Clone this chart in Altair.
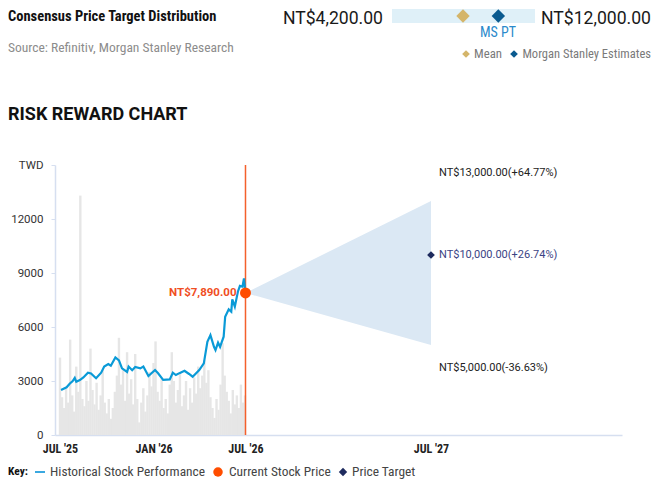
import altair as alt
import pandas as pd

# ---------------- data ----------------
price_dates = [
    "2025-07-03", "2025-07-14", "2025-07-20", "2025-07-26", "2025-07-30", "2025-08-02",
    "2025-08-09", "2025-08-16", "2025-08-25", "2025-08-31", "2025-09-10", "2025-09-20",
    "2025-09-26", "2025-10-04", "2025-10-09", "2025-10-18", "2025-10-25", "2025-10-31",
    "2025-11-10", "2025-11-13", "2025-11-20", "2025-11-26", "2025-12-06", "2025-12-12",
    "2025-12-22", "2026-01-04", "2026-01-10", "2026-01-20", "2026-02-02", "2026-02-08",
    "2026-02-14", "2026-02-22", "2026-03-03", "2026-03-12", "2026-03-19", "2026-04-01",
    "2026-04-10", "2026-04-17", "2026-04-23", "2026-04-30", "2026-05-03", "2026-05-08",
    "2026-05-12", "2026-05-19", "2026-05-22", "2026-05-29", "2026-06-03", "2026-06-05",
    "2026-06-10", "2026-06-16", "2026-06-20", "2026-06-25", "2026-06-28", "2026-07-01",
]
price_values = [
    2500, 2650, 2850, 3000, 3170, 2960,
    3050, 3200, 3460, 3420, 3150, 3460,
    3800, 3940, 3850, 4310, 4150, 3700,
    3500, 3800, 3600, 3780, 3700, 3800,
    3280, 3610, 3430, 3060, 3090, 3460,
    3330, 3450, 3570, 3390, 3240, 3610,
    3980, 5180, 5550, 4900, 4720, 5130,
    4900, 5460, 6570, 6980, 6850, 7540,
    7130, 7960, 8280, 8240, 8700, 7890,
]

vol_start = "2025-07-01"
vol_values = [
    4300, 2100, 1500, 2600, 1800, 5300, 2200, 1300, 3800, 2400,
    13300, 2000, 1600, 3000, 1900, 4800, 2500, 1700, 2900, 1400,
    2200, 3600, 1800, 1200, 2000, 900, 1500, 2400, 3300, 5400,
    2800, 3600, 1900, 4600, 2300, 3100, 1700, 4500, 2000, 700,
    1800, 2600, 1300, 2200, 3500, 2700, 4000, 5200, 2400, 1900,
    3100, 1500, 2000, 1200, 2800, 4600, 3000, 1800, 2500, 3400,
    1600, 2200, 3000, 1400, 2600, 1800, 3200, 2300, 3800, 2600,
    3300, 4150, 2900, 3600, 2100, 1500, 950, 2000, 1400, 2800,
    5100, 3300, 2400, 1900, 1200, 2500, 1700, 2200, 1500, 2800,
    1800, 2200,
]

current_date = "2026-07-01"
current_price = 7890
target_date = "2027-07-01"
bull_price = 13000
base_price = 10000
bear_price = 5000

consensus_low = 4200
consensus_high = 12000
consensus_mean = 8073
ms_pt = 10000

y_ticks = [0, 3000, 6000, 9000, 12000, 15000]

# ---------------- tables ----------------
price_df = pd.DataFrame({"date": price_dates, "price": price_values})
vol_df = pd.DataFrame({
    "date": pd.date_range(vol_start, periods=len(vol_values), freq="4D").strftime("%Y-%m-%d"),
    "price": vol_values,
})
cone_df = pd.DataFrame({
    "date": [current_date, target_date],
    "price": [current_price, bull_price],
    "lo": [current_price, bear_price],
})
cur_df = pd.DataFrame({"date": [current_date], "price": [current_price],
                       "label": [f"NT${current_price:,.2f}"]})


def lab(v):
    return f"NT${v:,.2f}({(v / current_price - 1) * 100:+.2f}%)"


tgt_df = pd.DataFrame({"date": [target_date], "price": [base_price], "label": [lab(base_price)]})
bull_df = pd.DataFrame({"date": [target_date], "price": [bull_price], "label": [lab(bull_price)]})
bear_df = pd.DataFrame({"date": [target_date], "price": [bear_price], "label": [lab(bear_price)]})

hdr_df = pd.DataFrame({"lo": [consensus_low], "hi": [consensus_high]})
hdr_pts = pd.DataFrame({"v": [consensus_mean, ms_pt], "kind": ["Mean", "MS"]})

NARROW = "Roboto Condensed, Roboto, sans-serif"
ROBOTO = "Roboto, sans-serif"

xs = alt.Scale(type="utc", domain=[alt.DateTime(year=2025, month=7, date=1, utc=True),
                                   alt.DateTime(year=2028, month=7, date=1, utc=True)])
ys = alt.Scale(domain=[0, 15000])

x_axis = alt.Axis(
    values=[alt.DateTime(year=2025, month=7, date=1, utc=True),
            alt.DateTime(year=2026, month=1, date=1, utc=True),
            alt.DateTime(year=2026, month=7, date=1, utc=True),
            alt.DateTime(year=2027, month=7, date=1, utc=True)],
    labelExpr="upper(utcFormat(datum.value, '%b')) + \" '\" + utcFormat(datum.value, '%y')",
    title=None, grid=False, ticks=False, domainColor="#d6dff0", domainWidth=1.5,
    labelFont=NARROW, labelFontSize=12, labelFontWeight="bold", labelColor="#222222",
    labelPadding=8, labelFlush=False,
)
y_axis = alt.Axis(
    values=y_ticks, format="d",
    labelExpr="datum.value == 15000 ? 'TWD' : datum.label",
    title=None, grid=False, tickSize=4, tickColor="#d6dff0", domainColor="#d6dff0",
    domainWidth=1.5, labelFont=ROBOTO, labelFontSize=11.5, labelColor="#333333",
    labelPadding=8,
)


def X():
    return alt.X("date:T", scale=xs, axis=x_axis)


def Y():
    return alt.Y("price:Q", scale=ys, axis=y_axis)


vol = alt.Chart(vol_df).mark_bar(color="#e6e6e6", width=2.4).encode(x=X(), y=Y())
cone = alt.Chart(cone_df).mark_area(color="#dbe8f4", opacity=1).encode(x=X(), y=Y(), y2="lo")
rule = alt.Chart(cur_df).mark_rule(color="#f4602c", strokeWidth=1.5).encode(x=X())
line = alt.Chart(price_df).mark_line(color="#0a9ad7", strokeWidth=2.2).encode(x=X(), y=Y())
cur_pt = alt.Chart(cur_df).mark_circle(color="#ff4d00", size=120, opacity=1).encode(x=X(), y=Y())
cur_lab = alt.Chart(cur_df).mark_text(align="right", baseline="middle", dx=-9, font=ROBOTO,
                                      fontSize=11.5, fontWeight="bold", color="#f04e23").encode(
    x=X(), y=Y(), text="label")
tgt_pt = alt.Chart(tgt_df).mark_point(shape="diamond", filled=True, size=60, color="#1e2b5e",
                                      opacity=1).encode(x=X(), y=Y())
tgt_lab = alt.Chart(tgt_df).mark_text(align="left", baseline="middle", dx=8, font=ROBOTO,
                                      fontSize=11, color="#3b4384").encode(x=X(), y=Y(), text="label")
bull_lab = alt.Chart(bull_df).mark_text(align="left", baseline="middle", dx=8, dy=-28, font=ROBOTO,
                                        fontSize=11, color="#222222").encode(x=X(), y=Y(), text="label")
bear_lab = alt.Chart(bear_df).mark_text(align="left", baseline="middle", dx=8, dy=23, font=ROBOTO,
                                        fontSize=11, color="#222222").encode(x=X(), y=Y(), text="label")

main = alt.layer(vol, cone, rule, line, cur_pt, cur_lab, tgt_pt, tgt_lab, bull_lab, bear_lab)

# header consensus strip (own scale)
hs = alt.Scale(domain=[consensus_low, consensus_high], range=[337, 480])
hbar = alt.Chart(hdr_df).mark_rect(color="#dff0f8").encode(
    x=alt.X("lo:Q", scale=hs, axis=None), x2="hi",
    y=alt.value(-156), y2=alt.value(-142),
)
hpts = alt.Chart(hdr_pts).mark_point(shape="diamond", filled=True, size=180, opacity=1).encode(
    x=alt.X("v:Q", scale=hs, axis=None), y=alt.value(-149),
    color=alt.Color("kind:N", scale=alt.Scale(domain=["Mean", "MS"], range=["#d4b56a", "#0a5a8f"]),
                    legend=None),
)
hmean_lab = alt.Chart(hdr_pts[hdr_pts.kind == "Mean"]).mark_text(
    align="center", baseline="alphabetic", font=NARROW, fontSize=13, color="#d4b56a", dx=19).encode(
    x=alt.X("v:Q", scale=hs, axis=None), y=alt.value(-160),
    text=alt.value(f"NT${consensus_mean:,.2f}"))
header = alt.layer(hbar, hpts, hmean_lab)


def txt(s, x, y, font=NARROW, size=12, color="#222222", weight="normal", align="left"):
    return alt.Chart().mark_text(align=align, baseline="middle", font=font, fontSize=size,
                                 color=color, fontWeight=weight).encode(
        x=alt.value(x), y=alt.value(y), text=alt.value(s))


def sym(x, y, shape, color, size):
    return alt.Chart().mark_point(shape=shape, filled=True, size=size, color=color, opacity=1).encode(
        x=alt.value(x), y=alt.value(y))


KY = 307  # key row (view coords)
texts = [
    txt("Consensus Price Target Distribution", -47, -148, size=14.5, weight="bold", color="#111111"),
    txt("Source: Refinitiv, Morgan Stanley Research", -47, -117, size=13.5, color="#8c8c8c"),
    txt(f"NT${consensus_low:,.2f}", 328, -146.5, font=ROBOTO, size=17.6, color="#1a1a1a", align="right"),
    txt(f"NT${consensus_high:,.2f}", 486, -146.5, font=ROBOTO, size=17.6, color="#1a1a1a"),
    txt("MS PT", 443, -132, font=NARROW, size=14, color="#2b8acb", align="center"),
    sym(411, -111, "diamond", "#d4b56a", 60),
    txt("Mean", 419, -111, size=12.8, color="#7a7a7a"),
    sym(459, -111, "diamond", "#0a5a8f", 60),
    txt("Morgan Stanley Estimates", 596, -111, size=12.5, color="#7a7a7a", align="right"),
    txt("RISK REWARD CHART", -47, -50, font=ROBOTO, size=18, weight="bold", color="#111111"),
    txt("Key:", -47, KY, size=11.5, weight="bold", color="#111111"),
    alt.Chart().mark_rule(color="#3aa8e0", strokeWidth=2).encode(
        x=alt.value(-20), x2=alt.value(-10), y=alt.value(KY)),
    txt("Historical Stock Performance", -5, KY, size=13.4, color="#444444"),
    alt.Chart().mark_circle(color="#ff4d00", size=90, opacity=1).encode(
        x=alt.value(163), y=alt.value(KY)),
    txt("Current Stock Price", 174, KY, size=13.4, color="#444444"),
    sym(288, KY, "diamond", "#1e2b5e", 70),
    txt("Price Target", 297, KY, size=13.4, color="#444444"),
]

chart = alt.layer(main, header, *texts).resolve_scale(
    x="independent", y="independent", color="independent"
).properties(
    width=567, height=270,
    padding={"left": 47, "top": 157, "right": 30, "bottom": 44},
    autosize="none",
).configure_view(stroke=None)

chart.save("out.html", embed_options={"renderer": "svg", "actions": False})
